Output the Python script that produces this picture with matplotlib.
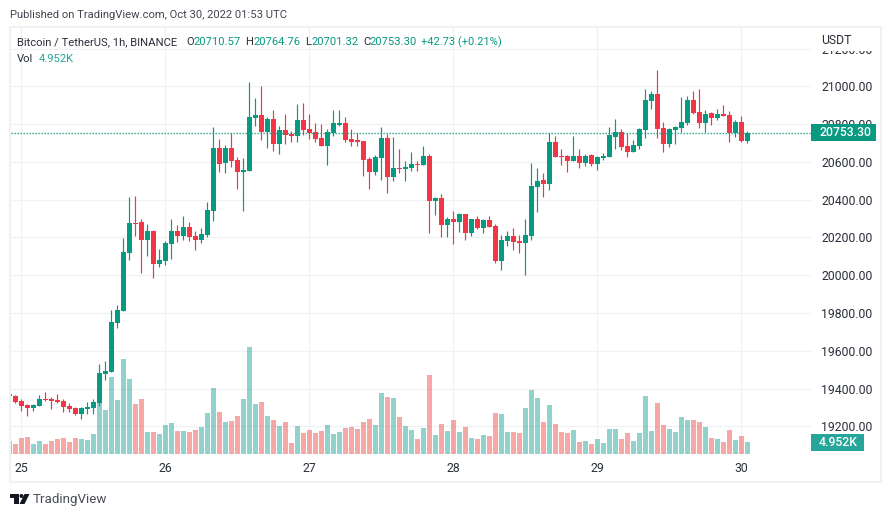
import numpy as np
import matplotlib
matplotlib.use("Agg")
import matplotlib.pyplot as plt
from matplotlib.patches import Rectangle, Polygon, Circle

hours = list(range(-2, 122))
opens = [19371,19361,19334,19313,19297,19308,19345,19347,19340,19334,19308,19297,19266,19292,19297,19324,19477,19488,19747,19811,
 20119,20276,20281,20186,20234,20059,20075,20165,20234,20207,20255,20207,20186,20213,20340,20673,20594,20673,20610,20546,
 20551,20832,20848,20758,20827,20694,20768,20747,20737,20821,20774,20758,20726,20684,20753,20795,20805,20721,20715,20710,
 20615,20546,20620,20726,20520,20567,20562,20567,20588,20583,20631,20392,20408,20265,20297,20281,20324,20223,20297,20250,
 20292,20260,20075,20181,20207,20181,20170,20207,20467,20504,20483,20705,20631,20631,20604,20631,20594,20636,20588,20620,
 20625,20731,20758,20684,20652,20684,20768,20922,20959,20779,20694,20768,20779,20805,20927,20864,20805,20858,20832,20853,
 20848,20753,20811,20710.57]
closes = [19363,19329,19308,19297,19313,19345,19340,19334,19329,19303,19292,19266,19297,19303,19329,19483,19493,19753,19816,20123,
 20276,20271,20186,20234,20059,20080,20170,20234,20207,20255,20202,20186,20218,20345,20673,20588,20673,20604,20546,20557,
 20837,20848,20758,20827,20694,20768,20742,20737,20821,20768,20753,20721,20684,20758,20805,20805,20715,20705,20705,20610,
 20546,20625,20726,20520,20567,20562,20573,20588,20583,20631,20392,20408,20265,20297,20281,20324,20223,20297,20250,20292,
 20255,20075,20186,20207,20175,20170,20213,20472,20498,20483,20705,20625,20625,20604,20631,20594,20631,20588,20625,20631,
 20742,20758,20678,20652,20689,20774,20927,20959,20774,20694,20774,20784,20811,20927,20858,20805,20853,20832,20853,20842,
 20753,20811,20710,20753.30]
highs = [19371,19366,19345,19319,19319,19366,19382,19356,19371,19345,19324,19303,19303,19329,19345,19530,19546,19816,19843,20197,
 20414,20419,20297,20271,20239,20138,20181,20297,20265,20313,20281,20234,20250,20387,20784,20721,20689,20753,20625,20620,
 21023,20938,21001,20837,20874,20790,20853,20763,20906,20911,20853,20805,20800,20774,20874,20874,20837,20774,20753,20710,
 20625,20636,20784,20747,20731,20668,20604,20652,20604,20684,20641,20414,20430,20308,20340,20329,20324,20297,20313,20297,
 20313,20271,20213,20234,20250,20213,20297,20594,20567,20541,20753,20737,20668,20636,20737,20668,20641,20641,20631,20647,
 20784,20827,20774,20753,20715,20779,20985,20975,21086,20811,20779,20790,20943,20948,20975,20985,20874,20864,20880,20901,
 20869,20821,20842,20764.76]
lows = [19363,19324,19281,19255,19281,19308,19334,19292,19324,19276,19276,19260,19239,19266,19266,19310,19446,19488,19721,19811,
 20080,20207,20011,20101,19985,20043,20054,20086,20175,20186,20181,20133,20170,20202,20287,20546,20541,20573,20456,20340,
 20551,20790,20715,20673,20657,20641,20694,20705,20705,20742,20721,20705,20684,20583,20737,20790,20705,20684,20684,20525,
 20456,20530,20504,20435,20498,20541,20498,20551,20551,20583,20223,20318,20202,20202,20165,20228,20186,20207,20244,20223,
 20255,20064,20027,20154,20133,20117,20001,20186,20334,20414,20451,20625,20583,20546,20604,20567,20578,20578,20557,20610,
 20625,20668,20662,20625,20652,20668,20726,20880,20726,20652,20678,20694,20758,20795,20853,20779,20758,20795,20821,20842,
 20705,20731,20705,20701.32]
volumes_k = [5.4,4.1,6.6,7.0,4.1,5.4,4.1,5.4,6.2,6.6,5.0,6.6,6.2,5.8,8.3,21.1,18.2,31.8,22.3,39.2,
 31.0,20.6,22.7,9.1,9.1,8.3,12.0,12.8,9.5,9.5,9.1,9.9,11.1,16.9,27.2,17.3,13.2,13.6,15.7,22.7,
 44.2,20.6,21.5,15.7,14.0,11.6,13.2,4.5,11.6,8.7,9.9,8.7,9.5,12.0,8.3,9.1,10.7,11.1,10.3,13.2,
 14.4,12.0,25.2,23.5,23.1,15.3,11.6,9.9,6.2,10.7,32.6,7.8,12.4,9.5,14.0,9.1,11.1,6.6,6.2,7.8,
 7.4,16.9,16.5,9.1,9.1,8.7,19.0,26.4,23.1,13.2,20.2,12.4,9.1,8.7,9.9,5.0,5.4,4.1,6.2,4.5,
 10.3,10.3,6.2,8.7,5.4,8.7,23.9,9.5,21.1,12.0,10.3,9.1,15.3,14.0,14.0,13.2,11.1,6.6,6.2,5.0,
 9.9,5.8,7.4,4.952]
price_ticks = [19200,19400,19600,19800,20000,20200,20400,20600,20800,21000,21200]
day_hours = [0,24,48,72,96,120]
day_labels = ["25","26","27","28","29","30"]

UP, DOWN = "#089981", "#f23645"
VUP, VDOWN = "#26a69a", "#ef5350"
GRID = "#f0f1f5"
TEXT = "#131722"
FS = 8.8
plt.rcParams["font.family"] = "Roboto"

W, H = 891, 517
fig = plt.figure(figsize=(W/100, H/100), dpi=100, facecolor="white")
pos = [11/W, 1-455/H, 800/W, 427/H]
xlim = ((11-21.3)/6, (811-21.3)/6)

ax = fig.add_axes(pos, zorder=1)
ax_vol = fig.add_axes(pos, zorder=2, sharex=ax, frameon=False)
ax_c = fig.add_axes(pos, zorder=3, sharex=ax, sharey=ax, frameon=False)
for s in ax.spines.values():
    s.set_visible(False)

x = np.array(hours)
o, c, hi, lo = map(np.array, (opens, closes, highs, lows))
up = c >= o

ax.set_xlim(*xlim)
ax.set_ylim(19048, 21308.6)
ax.yaxis.tick_right()
ax.set_yticks(price_ticks, [f"{p:.2f}" for p in price_ticks])
ax.set_xticks(day_hours, day_labels)
ax.tick_params(axis="both", length=0, labelcolor="#2a2e39", labelsize=FS)
ax.tick_params(axis="y", pad=7.2)
ax.tick_params(axis="x", pad=5)
ax.grid(True, color=GRID, lw=0.9)
ax.set_axisbelow(True)

ax_vol.bar(x, volumes_k, width=5/6, color=[VUP if u else VDOWN for u in up], alpha=0.5)
ax_vol.set_ylim(-1/2.423, 426/2.423)
ax_vol.axis("off")

ax_c.vlines(x, lo, hi, colors=[UP if u else DOWN for u in up], lw=0.85)
ax_c.bar(x, np.maximum(np.abs(c-o), 5), bottom=np.minimum(o, c), width=5/6,
         color=[UP if u else DOWN for u in up])
ax_c.axhline(closes[-1], color=UP, lw=1.0, ls=(0, (0.9, 1.26)))
ax_c.axis("off")

# overlay in pixel coordinates for the page furniture
ov = fig.add_axes([0, 0, 1, 1], zorder=5)
ov.set_xlim(0, W); ov.set_ylim(H, 0); ov.axis("off"); ov.patch.set_alpha(0)

ov.add_patch(Rectangle((10, 27), 871, 454.7, fill=False, ec=GRID, lw=1.5))
ov.add_patch(Rectangle((812, 29), 67, 21.7, fc="white", ec="none"))
ov.add_patch(Rectangle((811, 124), 65, 16.7, fc=UP, ec="none"))
ov.add_patch(Rectangle((811, 434), 53, 16.7, fc=VUP, ec="none"))

def t(px, py, s, color=TEXT, size=FS, **kw):
    ov.text(px, py, s, color=color, fontsize=size, va="center", ha=kw.pop("ha", "left"), **kw)

INK = "#2a2e39"
t(821, 41, "USDT", INK)
t(845, 132.7, f"{closes[-1]:.2f}", "white", FS, ha="center", fontweight="medium")
t(838, 442.7, "4.952K", "white", FS, ha="center", fontweight="medium")

t(10, 15, "Published on TradingView.com, Oct 30, 2022 01:53 UTC", "#434651", 8.1)
t(17, 42, "Bitcoin / TetherUS, 1h, BINANCE", INK, 8.1)
for lx, letter, vx, val in [(186, "O", 194, opens[-1]), (245, "H", 253, highs[-1]),
                            (305, "L", 311, lows[-1]), (363, "C", 370, closes[-1])]:
    t(lx, 42, letter, INK, 8.1)
    t(vx, 42, f"{val:.2f}", UP, 8.1)
t(421, 42, f"{closes[-1]-opens[-1]:+.2f} (+0.21%)", UP, 8.0)
t(17, 59, "Vol", INK, 8.1)
t(39, 59, "4.952K", VUP, 8.1)

# TradingView logo
ov.add_patch(Polygon([(10, 494), (19, 494), (19, 504), (14, 504), (14, 498), (10, 498)], fc="#131722", ec="none"))
ov.add_patch(Circle((21.5, 496), 2, fc="#131722", ec="none"))
ov.add_patch(Polygon([(24.5, 494), (29.5, 494), (24.5, 504), (19.5, 504)], fc="#131722", ec="none"))
t(33, 499, "TradingView", "#4a4e5a", 9.6)

fig.savefig("out.png", dpi=100, facecolor="white")
